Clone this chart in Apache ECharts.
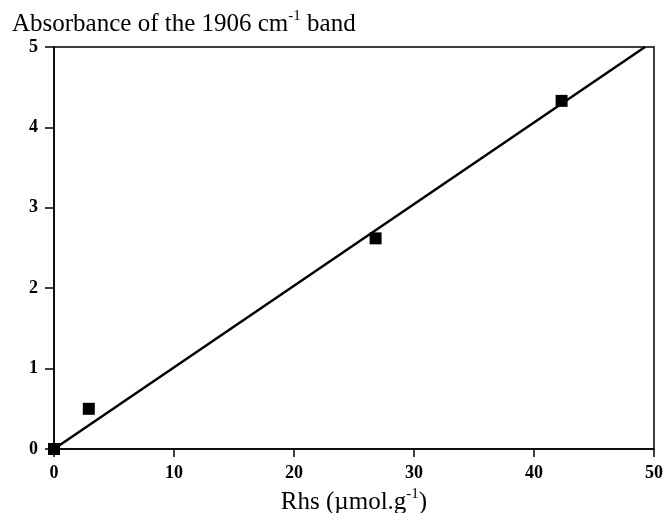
<!DOCTYPE html>
<html>
<head>
<meta charset="utf-8">
<script src="https://cdn.jsdelivr.net/npm/echarts@6/dist/echarts.min.js"></script>
<style>html,body{margin:0;padding:0;background:#fff}#c{width:665px;height:513px}</style>
</head>
<body>
<div id="c"></div>
<script>
// Data
const rhs = [0, 2.9, 26.8, 42.3];
const absorbance = [0, 0.5, 2.62, 4.33];
const fitX = [0, 49.25];
const fitY = [0, 5];
const xTicks = [0, 10, 20, 30, 40, 50];
const yTicks = [0, 1, 2, 3, 4, 5];

const FONT = '"Liberation Serif", "DejaVu Serif", serif';
const chart = echarts.init(document.getElementById('c'), null, {renderer: 'canvas'});
chart.setOption({
  animation: false,
  backgroundColor: '#fff',
  title: {
    left: 7, top: 4,
    text: '{n|Absorbance of the 1906 cm}{s|-1}{n| band}',
    textStyle: {
      fontWeight: 'normal',
      rich: {
        n: {fontFamily: FONT, fontSize: 25, fontWeight: 'normal', color: '#000', verticalAlign: 'bottom', lineHeight: 28},
        s: {fontFamily: FONT, fontSize: 15, fontWeight: 'normal', color: '#000', verticalAlign: 'top', padding: [0, 0, 13, 0], lineHeight: 28}
      }
    }
  },
  grid: {left: 54, right: 11, top: 47, bottom: 64, containLabel: false, outerBoundsMode: 'none', show: true, borderColor: '#000', borderWidth: 1.5, backgroundColor: 'transparent'},
  xAxis: {
    type: 'value', min: xTicks[0], max: xTicks[xTicks.length - 1], interval: xTicks[1] - xTicks[0],
    name: '{n|Rhs (µmol.g}{s|-1}{n|)}', nameLocation: 'middle', nameGap: 35,
    nameTextStyle: {
      rich: {
        n: {fontFamily: FONT, fontSize: 25, color: '#000', verticalAlign: 'bottom', lineHeight: 28},
        s: {fontFamily: FONT, fontSize: 15, color: '#000', verticalAlign: 'top', padding: [0, 0, 13, 0], lineHeight: 28}
      }
    },
    axisLine: {onZero: false, lineStyle: {color: '#000', width: 1.5}},
    axisTick: {inside: false, length: 8, lineStyle: {color: '#000', width: 1.5}},
    axisLabel: {fontFamily: FONT, fontWeight: 'bold', fontSize: 18, color: '#000', margin: 15},
    splitLine: {show: false}
  },
  yAxis: {
    type: 'value', min: yTicks[0], max: yTicks[yTicks.length - 1], interval: yTicks[1] - yTicks[0],
    axisLine: {show: true, onZero: false, lineStyle: {color: '#000', width: 1.5}},
    axisTick: {show: true, inside: false, length: 9, lineStyle: {color: '#000', width: 1.5}},
    axisLabel: {fontFamily: FONT, fontWeight: 'bold', fontSize: 18, color: '#000', margin: 16},
    splitLine: {show: false}
  },
  series: [
    {
      type: 'line',
      data: fitX.map((x, i) => [x, fitY[i]]),
      symbol: 'none',
      lineStyle: {color: '#000', width: 2.5},
      z: 2
    },
    {
      type: 'scatter',
      data: rhs.map((x, i) => [x, absorbance[i]]),
      symbol: 'rect',
      symbolSize: 12,
      itemStyle: {color: '#000', opacity: 1},
      z: 3
    }
  ]
});
</script>
</body>
</html>
